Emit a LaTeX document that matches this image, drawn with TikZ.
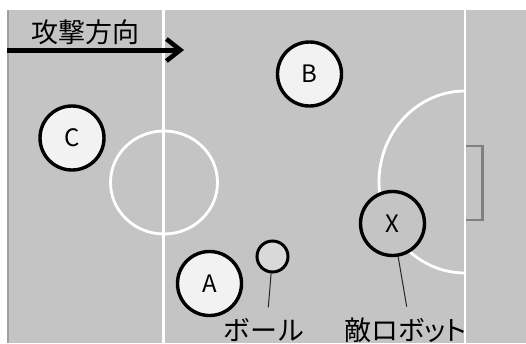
\documentclass[tikz,border=0pt]{standalone}
\usepackage{fontspec}
\newfontfamily\jp{Noto Sans CJK JP}
\newfontfamily\jpp[RawFeature=+palt]{Noto Sans CJK JP}
\usetikzlibrary{arrows.meta}
\definecolor{fieldgray}{HTML}{C4C4C4}
\definecolor{edgegray}{HTML}{A0A0A0}
\definecolor{goalgray}{HTML}{808080}
\definecolor{robotfill}{HTML}{F2F2F2}
\definecolor{ballfill}{HTML}{D9D9D9}
\begin{document}
\begin{tikzpicture}[x=1pt,y=-1pt,
  fieldline/.style={draw=white,line width=2.8pt},
  goalline/.style={draw=goalgray,line width=2.6pt},
  robot/.style={circle,draw=black,line width=3.4pt,fill=robotfill,minimum size=64pt,inner sep=0pt,font=\jp\fontsize{24}{24}\selectfont},
  enemy/.style={robot,fill=fieldgray},
  ballstyle/.style={circle,draw=black,line width=3pt,fill=ballfill,minimum size=31pt,inner sep=0pt},
  label/.style={inner sep=0pt,font=\jp\fontsize{27}{27}\selectfont},
  plabel/.style={inner sep=0pt,font=\jpp\fontsize{27}{27}\selectfont},
  leader/.style={draw=black!85,line width=1pt},
  dirarrow/.style={line width=5pt,-{Straight Barb[length=14pt,width=22pt,line width=4.5pt]}}]
\useasboundingbox (0,0) rectangle (526,343);
% field
\fill[fieldgray] (7,10) rectangle (526,343);
\draw[draw=edgegray,line width=1.6pt] (7.8,10) -- (7.8,343);
% markings
\draw[fieldline] (163.5,10) -- (163.5,343);
\draw[fieldline] (465,10) -- (465,343);
\draw[fieldline] (164,182.5) ellipse [x radius=53.5, y radius=51.5];
\draw[fieldline] (465,91) arc[start angle=270, end angle=90, x radius=86, y radius=91];
\draw[goalline] (466.4,146) -| (482.5,220) -- (466.4,220);
% direction
\node[label] (dir) at (85,32.5) {攻撃方向};
\coordinate (a0) at (7,50);
\coordinate (a1) at (184,50);
\draw[dirarrow] (a0) -- (a1);
% robots
\node[robot] (C) at (72,138) {C};
\node[robot] (B) at (309.5,74) {B};
\node[robot] (A) at (209.5,283.5) {A};
\node[enemy] (X) at (392.5,223.5) {X};
\node[ballstyle] (ball) at (272.5,256.5) {};
% labels
\node[label] (ballt) at (264,330) {ボール};
\node[plabel] (enemyt) at (405.5,330) {敵ロボット};
\coordinate (bl) at (268.3,307.3);
\coordinate (xl) at (406.7,306.7);
\draw[leader] (ball) -- (bl);
\draw[leader] (X) -- (xl);
\end{tikzpicture}
\end{document}
